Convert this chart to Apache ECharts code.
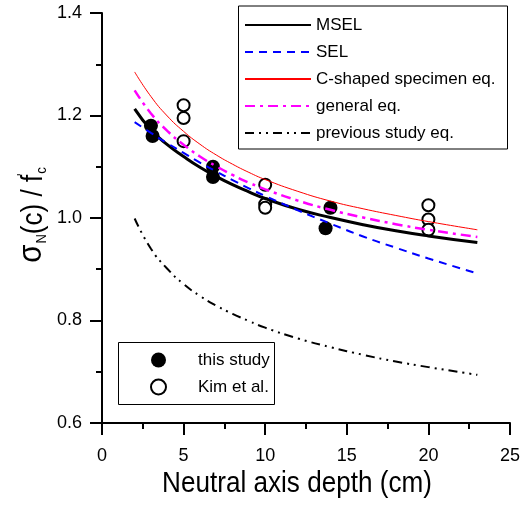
<!DOCTYPE html>
<html>
<head>
<meta charset="utf-8">
<script src="https://cdn.jsdelivr.net/npm/echarts@6/dist/echarts.min.js"></script>
<style>
  html, body { margin: 0; padding: 0; background: #fff; }
  #chart { width: 523px; height: 507px; }
</style>
</head>
<body>
<div id="chart"></div>
<script>
// Neutral axis depth (cm) sampled along the fitted curves
const curveX = [2, 3, 4, 5, 6, 7, 8, 9, 10, 12, 14, 16, 18, 20, 23];
const mselY = [1.213, 1.172, 1.143, 1.120, 1.099, 1.081, 1.065, 1.051, 1.038, 1.017, 1.001, 0.987, 0.975, 0.965, 0.952];
const selY = [1.187, 1.166, 1.146, 1.127, 1.108, 1.091, 1.074, 1.058, 1.043, 1.015, 0.989, 0.964, 0.942, 0.921, 0.892];
const cShapedY = [1.285, 1.237, 1.199, 1.169, 1.144, 1.123, 1.105, 1.089, 1.075, 1.052, 1.033, 1.018, 1.005, 0.993, 0.977];
const generalY = [1.249, 1.204, 1.170, 1.143, 1.120, 1.101, 1.084, 1.069, 1.056, 1.034, 1.016, 1.001, 0.988, 0.977, 0.963];
const previousY = [0.999, 0.940, 0.901, 0.871, 0.848, 0.829, 0.813, 0.799, 0.786, 0.765, 0.748, 0.733, 0.720, 0.709, 0.694];

// Test results
const thisStudyX = [3.0, 3.1, 6.8, 6.8, 14.0, 13.7];
const thisStudyY = [1.18, 1.16, 1.10, 1.08, 1.02, 0.98];
const kimX = [5, 5, 5, 10, 10, 10, 20, 20, 20];
const kimY = [1.22, 1.195, 1.15, 1.065, 1.027, 1.020, 1.025, 0.997, 0.977];

// Axis ticks
const xTicks = [0, 5, 10, 15, 20, 25];
const yTicks = [0.6, 0.8, 1.0, 1.2, 1.4];

const FONT = "'Liberation Sans', Arial, sans-serif";

const zip = (xs, ys) => xs.map((x, i) => [x, ys[i]]);

function lineSeries(name, ys, color, width, type) {
  return {
    name: name,
    type: 'line',
    data: zip(curveX, ys),
    smooth: true,
    symbol: 'none',
    silent: true,
    lineStyle: { color: color, width: width, type: type, opacity: 1 },
    itemStyle: { color: color },
    z: 3
  };
}

const chart = echarts.init(document.getElementById('chart'), null, { renderer: 'canvas' });

chart.setOption({
  animation: false,
  backgroundColor: '#fff',
  textStyle: { fontFamily: FONT },
  grid: { left: 102, right: 12, top: 13, bottom: 84, containLabel: false },
  xAxis: {
    type: 'value',
    min: xTicks[0],
    max: xTicks[xTicks.length - 1],
    interval: xTicks[1] - xTicks[0],
    splitLine: { show: false },
    axisLine: { onZero: false, lineStyle: { color: '#000', width: 2 } },
    axisTick: { inside: false, length: 12, lineStyle: { color: '#000', width: 2 } },
    minorTick: { show: true, splitNumber: 2, length: 6, lineStyle: { color: '#000', width: 2 } },
    axisLabel: { margin: 24, color: '#000', fontSize: 18, fontFamily: FONT }
  },
  yAxis: {
    type: 'value',
    min: yTicks[0],
    max: yTicks[yTicks.length - 1],
    interval: 0.2,
    splitLine: { show: false },
    axisLine: { show: true, onZero: false, lineStyle: { color: '#000', width: 2 } },
    axisTick: { show: true, inside: false, length: 12, lineStyle: { color: '#000', width: 2 } },
    minorTick: { show: true, splitNumber: 2, length: 6, lineStyle: { color: '#000', width: 2 } },
    axisLabel: {
      margin: 20, color: '#000', fontSize: 18, fontFamily: FONT,
      formatter: v => v.toFixed(1)
    }
  },
  legend: [
    {
      data: ['MSEL', 'SEL', 'C-shaped specimen eq.', 'general eq.', 'previous study eq.'],
      orient: 'vertical',
      left: 244,
      top: 15,
      padding: 0,
      itemWidth: 66,
      itemHeight: 14,
      itemGap: 7,
      selectedMode: false,
      itemStyle: { opacity: 0 },
      textStyle: { fontSize: 17, lineHeight: 20, color: '#000', fontFamily: FONT }
    },
    {
      data: ['this study', 'Kim et al.'],
      orient: 'vertical',
      left: 150,
      top: 350,
      padding: 0,
      itemWidth: 15,
      itemHeight: 15,
      itemGap: 7,
      selectedMode: false,
      textStyle: { fontSize: 17, lineHeight: 20, color: '#000', fontFamily: FONT, padding: [0, 0, 0, 27] }
    }
  ],
  graphic: [
    {
      type: 'rect', z: 1,
      shape: { x: 238.5, y: 6, width: 269, height: 143 },
      style: { fill: '#fff', stroke: '#000', lineWidth: 1 }
    },
    {
      type: 'rect', z: 1,
      shape: { x: 118.5, y: 342.5, width: 156, height: 62 },
      style: { fill: '#fff', stroke: '#000', lineWidth: 1 }
    },
    {
      type: 'text', z: 5,
      x: 297, y: 484,
      scaleX: 0.87,
      style: {
        text: 'Neutral axis depth (cm)',
        font: '30px ' + FONT,
        fill: '#000',
        align: 'center',
        verticalAlign: 'middle'
      }
    },
    {
      type: 'text', z: 5,
      x: 32, y: 215,
      rotation: Math.PI / 2,
      scaleX: 0.87,
      style: {
        text: '{s|σ}{sub|N}{m|(c) / f}{p|\'}{sub|c}',
        align: 'center',
        verticalAlign: 'middle',
        fill: '#000',
        rich: {
          s: { fontSize: 34, fontFamily: FONT, fill: '#000', verticalAlign: 'bottom', lineHeight: 34 },
          m: { fontSize: 30, fontFamily: FONT, fill: '#000', verticalAlign: 'bottom', lineHeight: 34 },
          sub: { fontSize: 15, fontFamily: FONT, fill: '#000', verticalAlign: 'bottom', lineHeight: 15, padding: [0, 0, 0, 1] },
          p: { fontSize: 15, fontFamily: FONT, fill: '#000', verticalAlign: 'top', lineHeight: 15, width: 0 }
        }
      }
    }
  ],
  series: [
    {
      name: 'this study',
      type: 'scatter',
      data: zip(thisStudyX, thisStudyY),
      symbol: 'circle',
      symbolSize: 14,
      itemStyle: { color: '#000', opacity: 1 },
      silent: true,
      z: 2
    },
    {
      name: 'Kim et al.',
      type: 'scatter',
      data: zip(kimX, kimY),
      symbol: 'circle',
      symbolSize: 12,
      itemStyle: { color: '#fff', borderColor: '#000', borderWidth: 2, opacity: 1 },
      silent: true,
      z: 2
    },
    lineSeries('MSEL', mselY, '#000', 3, 'solid'),
    lineSeries('SEL', selY, '#0000ff', 2, [8, 6]),
    lineSeries('C-shaped specimen eq.', cShapedY, '#ff0000', 1, 'solid'),
    lineSeries('general eq.', generalY, '#ff00ff', 2.5, [10, 5, 3, 5]),
    lineSeries('previous study eq.', previousY, '#000', 2, [9, 5, 2, 5, 2, 5])
  ]
});
</script>
</body>
</html>
